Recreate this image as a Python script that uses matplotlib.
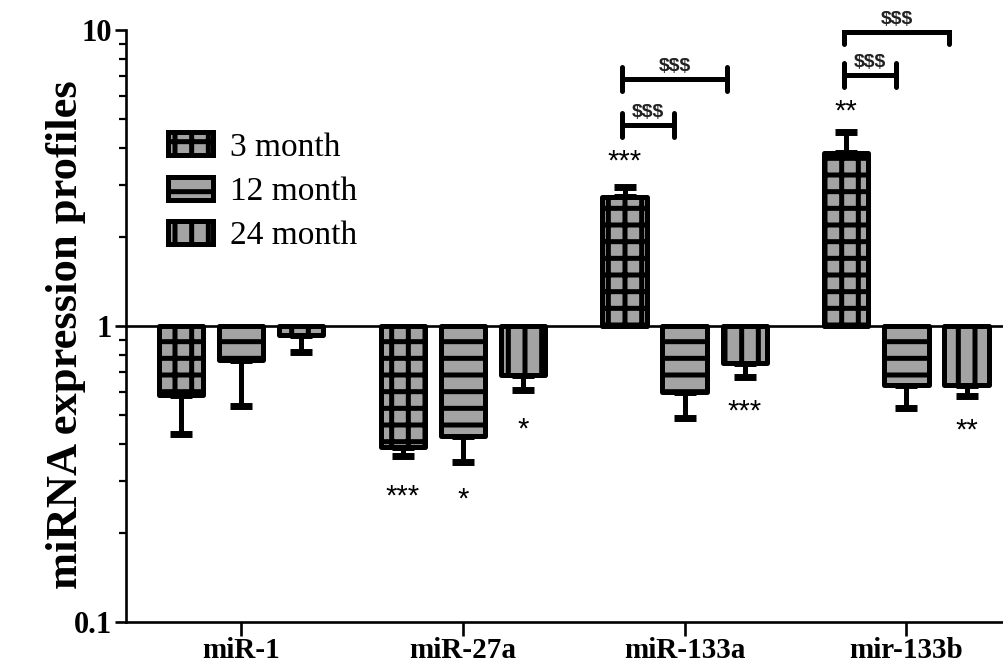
import matplotlib
matplotlib.use("Agg")
import matplotlib.pyplot as plt
from matplotlib.patches import Patch
from matplotlib.ticker import LogLocator, NullFormatter

# data (fold change vs control, log axis, bars hang from 1)
mirnas = ["miR-1", "miR-27a", "miR-133a", "mir-133b"]
series = ["3 month", "12 month", "24 month"]
vals_3m = [0.585, 0.39, 2.73, 3.84]
vals_12m = [0.767, 0.425, 0.598, 0.63]
vals_24m = [0.93, 0.683, 0.75, 0.63]
err_3m = [0.155, 0.026, 0.22, 0.68]
err_12m = [0.23, 0.078, 0.109, 0.10]
err_24m = [0.113, 0.075, 0.077, 0.05]

# significance marks: (mirna index, series index, text, y value)
stars = [
    (1, 0, "***", 0.275),
    (1, 1, "*", 0.268),
    (1, 2, "*", 0.463),
    (2, 0, "***", 3.72),
    (2, 2, "***", 0.532),
    (3, 0, "**", 5.5),
    (3, 2, "**", 0.459),
]
# brackets: (mirna index, series from, series to, y value, text)
brackets = [
    (2, 0, 1, 4.78, "$$$"),
    (2, 0, 2, 6.83, "$$$"),
    (3, 0, 1, 7.05, "$$$"),
    (3, 0, 2, 9.85, "$$$"),
]

gray = "#a3a3a3"
hatches = ["+", "-", "|"]
plt.rcParams["hatch.linewidth"] = 3.6
plt.rcParams["hatch.color"] = "black"

fig = plt.figure(figsize=(10.04, 6.70), dpi=100)
ax = fig.add_axes([126 / 1004, 48 / 670, 878 / 1004, 592 / 670])
ax.set_yscale("log")
ax.set_ylim(0.1, 10)
ax.set_xlim(-0.519, 3.44)

step = 0.271
width = 0.2
values = [vals_3m, vals_12m, vals_24m]
errors = [err_3m, err_12m, err_24m]
for j in range(3):
    xs = [i + (j - 1) * step for i in range(len(mirnas))]
    v = values[j]
    ax.bar(xs, [y - 1 for y in v], bottom=1, width=width, color=gray,
           edgecolor="black", linewidth=3.6, hatch=hatches[j],
           joinstyle="round", zorder=3)
    lower = [e if y < 1 else 0 for y, e in zip(v, errors[j])]
    upper = [e if y >= 1 else 0 for y, e in zip(v, errors[j])]
    ax.errorbar(xs, v, yerr=[lower, upper], fmt="none", ecolor="black",
                elinewidth=3.6, capsize=8, capthick=5, zorder=2)

ax.axhline(1, color="black", lw=1.9, zorder=4)

for i, j, txt, y in stars:
    ax.annotate(txt, xy=(i + (j - 1) * step, y), xytext=(0, -9),
                textcoords="offset points", ha="center", va="baseline",
                fontsize=21, family="Liberation Sans")

for i, j0, j1, y, txt in brackets:
    x0 = i + (j0 - 1) * step - 0.01
    x1 = i + (j1 - 1) * step - (0.047 if j1 == 1 else 0.08)
    d = 10 ** (12 / 296)
    ax.hlines(y, x0, x1, color="black", lw=3.6, capstyle="round", zorder=5)
    ax.vlines([x0, x1], y / d, y * d, color="black", lw=3.6,
              capstyle="round", zorder=5)
    ax.annotate(txt, xy=((x0 + x1) / 2, y), xytext=(0, 5.5),
                textcoords="offset points", ha="center", va="baseline",
                fontsize=14, fontweight="bold", family="Liberation Sans",
                color="#222222")

for s in ["top", "right"]:
    ax.spines[s].set_visible(False)
for s in ["left", "bottom"]:
    ax.spines[s].set_linewidth(1.9)

ax.set_yticks([0.1, 1, 10])
ax.set_yticklabels(["0.1", "1", "10"], fontsize=22, fontweight="bold",
                   family="Liberation Serif")
ax.yaxis.set_minor_locator(LogLocator(base=10, subs=range(2, 10)))
ax.yaxis.set_minor_formatter(NullFormatter())
ax.tick_params(axis="y", which="major", length=8, width=1.9, pad=2)
ax.tick_params(axis="y", which="minor", length=5, width=1.6)

ax.set_xticks(range(len(mirnas)))
ax.set_xticklabels(mirnas, fontsize=21, fontweight="bold",
                   family="Liberation Serif")
ax.tick_params(axis="x", length=10, width=1.9, pad=1)

ax.set_ylabel("miRNA expression profiles", fontsize=32, fontweight="bold",
              family="Liberation Serif")
ax.yaxis.set_label_coords(-0.045, 0.485)

handles = [Patch(facecolor=gray, edgecolor="black", hatch=h, linewidth=3.6,
                 label=l) for h, l in zip(hatches, series)]
ax.legend(handles=handles, loc="upper left", frameon=False,
          bbox_to_anchor=(168 / 1004, 538 / 670), bbox_transform=fig.transFigure,
          prop={"family": "Liberation Serif", "size": 24},
          handlelength=1.36, handleheight=0.67, handletextpad=0.5,
          labelspacing=0.42, borderpad=0, borderaxespad=0)

fig.savefig("out.png", dpi=100)
